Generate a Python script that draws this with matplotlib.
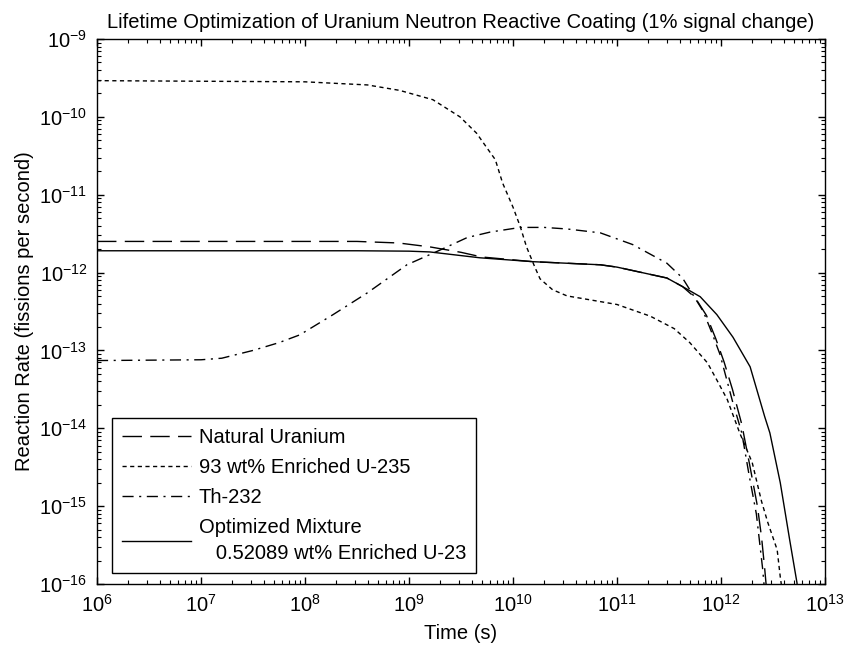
"""Lifetime optimization plot for the uranium neutron reactive coating."""
import matplotlib
matplotlib.use('Agg')
import matplotlib.pyplot as plt
import numpy as np
from matplotlib.ticker import FixedLocator, NullFormatter

# values, as powers of ten
nat_t = [6, 8.5, 8.9, 9.2, 9.5, 9.7, 10.19, 10.84, 11.0, 11.48, 11.63, 11.75,
         11.86, 11.95, 12.03, 12.11, 12.2, 12.28, 12.35, 12.39, 12.42, 12.44]
nat_r = [-11.60, -11.60, -11.62, -11.67, -11.74, -11.80, -11.86, -11.90, -11.93,
         -12.07, -12.18, -12.32, -12.55, -12.85, -13.15, -13.5, -13.95, -14.5,
         -15.0, -15.4, -15.8, -16.1]

enr_t = [6, 8.0, 8.6, 8.91, 9.23, 9.49, 9.65, 9.75, 9.83, 9.9, 10.0, 10.07, 10.13,
         10.21, 10.26, 10.38, 10.52, 10.74, 11.0, 11.32, 11.55, 11.70, 11.87, 11.96,
         12.06, 12.18, 12.3, 12.39, 12.45, 12.54, 12.57, 12.59]
enr_r = [-9.535, -9.55, -9.59, -9.66, -9.78, -10.0, -10.21, -10.4, -10.55, -10.85,
         -11.16, -11.41, -11.67, -11.93, -12.08, -12.22, -12.3, -12.35, -12.41,
         -12.56, -12.72, -12.9, -13.16, -13.38, -13.63, -14.06, -14.44, -14.94,
         -15.21, -15.56, -15.91, -16.1]

th_t = [6, 7.0, 7.2, 7.5, 7.75, 7.95, 8.27, 8.6, 8.98, 9.3, 9.56, 9.78, 10.07,
        10.3, 10.52, 10.84, 11.15, 11.48, 11.63, 11.70, 11.83, 11.92, 11.99, 12.04,
        12.11, 12.2, 12.27, 12.34, 12.37, 12.40, 12.42]
th_r = [-13.13, -13.12, -13.1, -13.0, -12.9, -12.8, -12.54, -12.26, -11.9, -11.71,
        -11.55, -11.48, -11.42, -11.42, -11.44, -11.49, -11.64, -11.88, -12.07,
        -12.22, -12.5, -12.8, -13.05, -13.3, -13.65, -14.06, -14.6, -15.1, -15.45,
        -15.8, -16.1]

opt_t = [6, 8.5, 9.0, 9.2, 9.68, 10.19, 10.84, 11.0, 11.48, 11.63, 11.8, 11.96,
         12.115, 12.28, 12.42, 12.47, 12.57, 12.66, 12.73, 12.74]
opt_r = [-11.72, -11.72, -11.725, -11.735, -11.81, -11.86, -11.9, -11.93, -12.07,
         -12.18, -12.31, -12.54, -12.83, -13.21, -13.85, -14.06, -14.7, -15.43,
         -15.98, -16.1]

x_decades = list(range(6, 14))
y_decades = list(range(-16, -8))

labels = ['Natural Uranium',
          '93 wt% Enriched U-235',
          'Th-232',
          'Optimized Mixture\n   0.52089 wt% Enriched U-23']

plt.rcParams['font.family'] = ['Liberation Sans', 'DejaVu Sans']
plt.rcParams['mathtext.fontset'] = 'custom'
plt.rcParams['mathtext.rm'] = 'Liberation Sans'
plt.rcParams['font.size'] = 14.5

fig = plt.figure(figsize=(8.48, 6.51), dpi=100)
ax = fig.add_axes([97 / 848, 67 / 651, 728 / 848, 545 / 651])

ax.loglog(10.0 ** np.array(nat_t), 10.0 ** np.array(nat_r), color='black', lw=1.0,
          dashes=(14, 6), label=labels[0])
ax.loglog(10.0 ** np.array(enr_t), 10.0 ** np.array(enr_r), color='black', lw=1.0,
          dashes=(3, 2.5), label=labels[1])
ax.loglog(10.0 ** np.array(th_t), 10.0 ** np.array(th_r), color='black', lw=1.0,
          dashes=(8, 4, 1.5, 4), label=labels[2])
ax.loglog(10.0 ** np.array(opt_t), 10.0 ** np.array(opt_r), color='black', lw=1.0,
          label=labels[3])

ax.set_xlim(10.0 ** x_decades[0], 10.0 ** x_decades[-1])
ax.set_ylim(10.0 ** y_decades[0], 10.0 ** y_decades[-1])
for axis, decades in ((ax.xaxis, x_decades), (ax.yaxis, y_decades)):
    axis.set_major_locator(FixedLocator([10.0 ** d for d in decades]))
    axis.set_minor_locator(FixedLocator([k * 10.0 ** d for d in decades[:-1] for k in range(2, 10)]))
    axis.set_minor_formatter(NullFormatter())
ax.tick_params(which='both', direction='in', top=True, right=True, colors='black')
ax.tick_params(which='major', length=5, width=1, pad=7)
ax.tick_params(which='minor', length=3, width=0.8)
for spine in ax.spines.values():
    spine.set_linewidth(1.0)

ax.set_title('Lifetime Optimization of Uranium Neutron Reactive Coating (1% signal change)',
             fontsize=14.5, pad=8)
ax.set_xlabel('Time (s)', labelpad=6)
ax.set_ylabel('Reaction Rate (fissions per second)', labelpad=4)

leg = ax.legend(loc='lower left', bbox_to_anchor=(0.0206, 0.0202), borderaxespad=0,
                fancybox=False, framealpha=1, edgecolor='black', handlelength=3.4,
                handletextpad=0.4, labelspacing=0.55, borderpad=0.5)
leg.get_frame().set_linewidth(1.0)
for text in leg.get_texts():
    text.set_linespacing(1.45)

fig.savefig('out.png', dpi=100)
